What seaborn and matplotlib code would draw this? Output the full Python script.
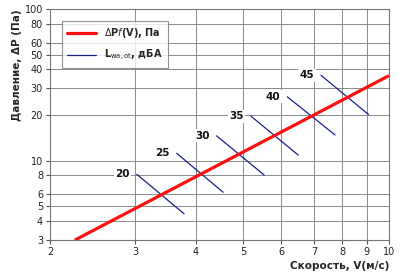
import matplotlib
matplotlib.use("Agg")
import matplotlib.pyplot as plt
from matplotlib.lines import Line2D
import seaborn as sns
import pandas as pd

# Pressure line ΔP = f(V)
v_pressure = [2.25, 10.0]
dp_pressure = [3.0, 36.4]

# Noise level segments (start/end points)
noise_levels = [20, 25, 30, 35, 40, 45]
noise_v_start = [3.02, 3.65, 4.41, 5.19, 6.17, 7.24]
noise_p_start = [8.14, 11.2, 14.6, 19.7, 26.4, 36.6]
noise_v_end = [3.78, 4.55, 5.53, 6.50, 7.74, 9.07]
noise_p_end = [4.47, 6.2, 8.05, 10.9, 14.8, 20.2]

x_ticks = [2, 3, 4, 5, 6, 7, 8, 9, 10]
y_ticks = [3, 4, 5, 6, 8, 10, 20, 30, 40, 50, 60, 80, 100]

sns.set_theme(style="white")
plt.rcParams['font.family'] = ['DejaVu Sans']

fig = plt.figure(figsize=(4.0, 2.75), dpi=100)
ax = fig.add_axes([0.125, 0.127, 0.8475, 0.840])

rows = []
for lvl, x0, y0, x1, y1 in zip(noise_levels, noise_v_start, noise_p_start, noise_v_end, noise_p_end):
    rows.append({"level": lvl, "V": x0, "P": y0})
    rows.append({"level": lvl, "V": x1, "P": y1})
seg_df = pd.DataFrame(rows)
line_df = pd.DataFrame({"V": v_pressure, "P": dp_pressure})

ax.set_xscale("log")
ax.set_yscale("log")

sns.lineplot(data=seg_df, x="V", y="P", units="level", estimator=None,
             color="#1a1f8c", lw=0.9, ax=ax, legend=False, zorder=3)
sns.lineplot(data=line_df, x="V", y="P", color="#ff1010", lw=2.3,
             ax=ax, legend=False, zorder=4, solid_capstyle="butt")

for lvl, x0, y0 in zip(noise_levels, noise_v_start, noise_p_start):
    ax.annotate(str(lvl), xy=(x0, y0), xytext=(-5, 0), textcoords="offset points",
                ha="right", va="center", fontsize=7.5, fontweight="bold", color="#111111",
                bbox=dict(boxstyle="square,pad=0.15", fc="white", ec="none"), zorder=5)

ax.set_xlim(2, 10)
ax.set_ylim(3, 100)
ax.set_xticks(x_ticks)
ax.set_xticklabels([str(t) for t in x_ticks])
ax.set_yticks(y_ticks)
ax.set_yticklabels([str(t) for t in y_ticks])
ax.minorticks_off()
ax.tick_params(axis="both", which="major", labelsize=7, length=3, width=0.8,
               color="#555555", labelcolor="#222222", pad=2, direction="out",
               bottom=True, left=True)

ax.grid(True, which="major", color="#8a8a8a", lw=0.7)
for side in ["left", "bottom", "top", "right"]:
    ax.spines[side].set_color("#777777")
    ax.spines[side].set_linewidth(0.8)

ax.set_xlabel("Скорость, V(м/с)", fontsize=7.5, fontweight="bold", loc="right", labelpad=3)
ax.set_ylabel("Давление, ΔP (Па)", fontsize=7.5, fontweight="bold", loc="top", labelpad=2)

handles = [Line2D([0], [0], color="#ff1010", lw=2.3),
           Line2D([0], [0], color="#1a1f8c", lw=0.9)]
labels = [r"$\Delta$P$\mathit{f}$(V), Па", r"L$_{\mathrm{wa,ot}}$, дБА"]
leg = ax.legend(handles, labels, loc="upper left", bbox_to_anchor=(0.036, 0.948),
                borderaxespad=0, frameon=True, fancybox=False, edgecolor="#777777",
                handlelength=3.0, borderpad=0.5, labelspacing=0.8, handletextpad=0.8,
                prop={"weight": "bold", "size": 7})
leg.get_frame().set_linewidth(0.8)
leg.set_zorder(6)

fig.savefig("out.png", dpi=100)
